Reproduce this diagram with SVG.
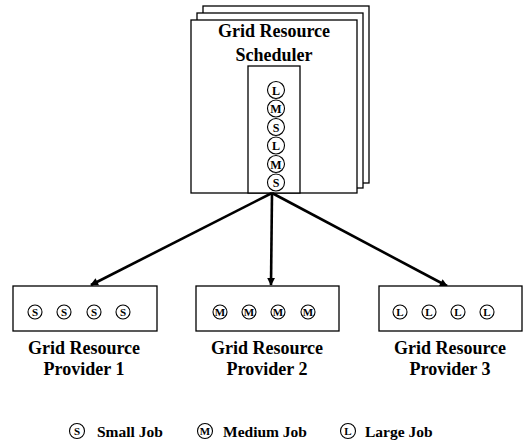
<svg xmlns="http://www.w3.org/2000/svg" width="524" height="442" viewBox="0 0 524 442">
<style>
.box{fill:#fff;stroke:#000;stroke-width:1.3}
.t{font-family:'Liberation Serif','Times New Roman','DejaVu Serif',serif;font-weight:bold;font-size:18px;text-anchor:middle;fill:#000}
.lg{font-family:'Liberation Serif','Times New Roman','DejaVu Serif',serif;font-weight:bold;font-size:15.5px;fill:#000}
.c{fill:#fff;stroke:#000;stroke-width:1.1}
.cl{font-family:'Liberation Serif','Times New Roman','DejaVu Serif',serif;font-weight:bold;font-size:11px;text-anchor:middle;fill:#000}
.cb{font-family:'Liberation Serif','Times New Roman','DejaVu Serif',serif;font-weight:bold;font-size:12px;text-anchor:middle;fill:#000}
.ar{stroke:#000;stroke-width:2.6;fill:none;marker-end:url(#ah)}
</style>
<defs>
<marker id="ah" viewBox="0 0 10 10" refX="9" refY="5" markerWidth="3.5" markerHeight="3" orient="auto" markerUnits="strokeWidth">
<path d="M0,0 L10,5 L0,10 z" fill="#000"/>
</marker>
</defs>
<rect width="524" height="442" fill="#fff"/>
<g id="scheduler">
<rect class="box" x="203" y="6" width="166" height="177"/>
<rect class="box" x="197" y="13" width="166" height="175"/>
<rect class="box" x="191" y="20" width="166" height="173"/>
<text class="t" x="274" y="37">Grid Resource</text>
<text class="t" x="274" y="61">Scheduler</text>
<rect class="box" x="248" y="66" width="52" height="127"/>
<g>
<circle class="c" cx="276" cy="90" r="8.5"/><text class="cb" x="276" y="94.5">L</text>
<circle class="c" cx="276" cy="108.5" r="8.5"/><text class="cb" x="276" y="113">M</text>
<circle class="c" cx="276" cy="127" r="8.5"/><text class="cb" x="276" y="131.5">S</text>
<circle class="c" cx="276" cy="145.5" r="8.5"/><text class="cb" x="276" y="150">L</text>
<circle class="c" cx="276" cy="164" r="8.5"/><text class="cb" x="276" y="168.5">M</text>
<circle class="c" cx="276" cy="182.5" r="8.5"/><text class="cb" x="276" y="187">S</text>
</g>
</g>
<g id="connectors">
<line class="ar" x1="272" y1="193" x2="91" y2="285"/>
<line class="ar" x1="272" y1="193" x2="271" y2="285"/>
<line class="ar" x1="272" y1="193" x2="447" y2="286"/>
</g>
<g id="provider1">
<rect class="box" x="13" y="286" width="144" height="45"/>
<circle class="c" cx="35" cy="312" r="7"/><text class="cl" x="35" y="316">S</text>
<circle class="c" cx="64" cy="312" r="7"/><text class="cl" x="64" y="316">S</text>
<circle class="c" cx="94" cy="312" r="7"/><text class="cl" x="94" y="316">S</text>
<circle class="c" cx="123" cy="312" r="7"/><text class="cl" x="123" y="316">S</text>
<text class="t" x="84" y="354">Grid Resource</text>
<text class="t" x="84" y="375">Provider 1</text>
</g>
<g id="provider2">
<rect class="box" x="196" y="286" width="143" height="45"/>
<circle class="c" cx="220" cy="312" r="7"/><text class="cl" x="220" y="316">M</text>
<circle class="c" cx="249" cy="312" r="7"/><text class="cl" x="249" y="316">M</text>
<circle class="c" cx="278" cy="312" r="7"/><text class="cl" x="278" y="316">M</text>
<circle class="c" cx="308" cy="312" r="7"/><text class="cl" x="308" y="316">M</text>
<text class="t" x="267" y="354">Grid Resource</text>
<text class="t" x="267" y="375">Provider 2</text>
</g>
<g id="provider3">
<rect class="box" x="379" y="286" width="143" height="45"/>
<circle class="c" cx="400" cy="312" r="7"/><text class="cl" x="400" y="316">L</text>
<circle class="c" cx="429" cy="312" r="7"/><text class="cl" x="429" y="316">L</text>
<circle class="c" cx="458" cy="312" r="7"/><text class="cl" x="458" y="316">L</text>
<circle class="c" cx="487" cy="312" r="7"/><text class="cl" x="487" y="316">L</text>
<text class="t" x="450" y="354">Grid Resource</text>
<text class="t" x="450" y="375">Provider 3</text>
</g>
<g id="legend">
<circle class="c" cx="77" cy="431" r="7.5"/><text class="cl" x="77" y="435">S</text>
<text class="lg" x="97" y="437">Small Job</text>
<circle class="c" cx="205" cy="431" r="7.5"/><text class="cl" x="205" y="435">M</text>
<text class="lg" x="223" y="437">Medium Job</text>
<circle class="c" cx="348" cy="431" r="7.5"/><text class="cl" x="348" y="435">L</text>
<text class="lg" x="365" y="437">Large Job</text>
</g>
</svg>
